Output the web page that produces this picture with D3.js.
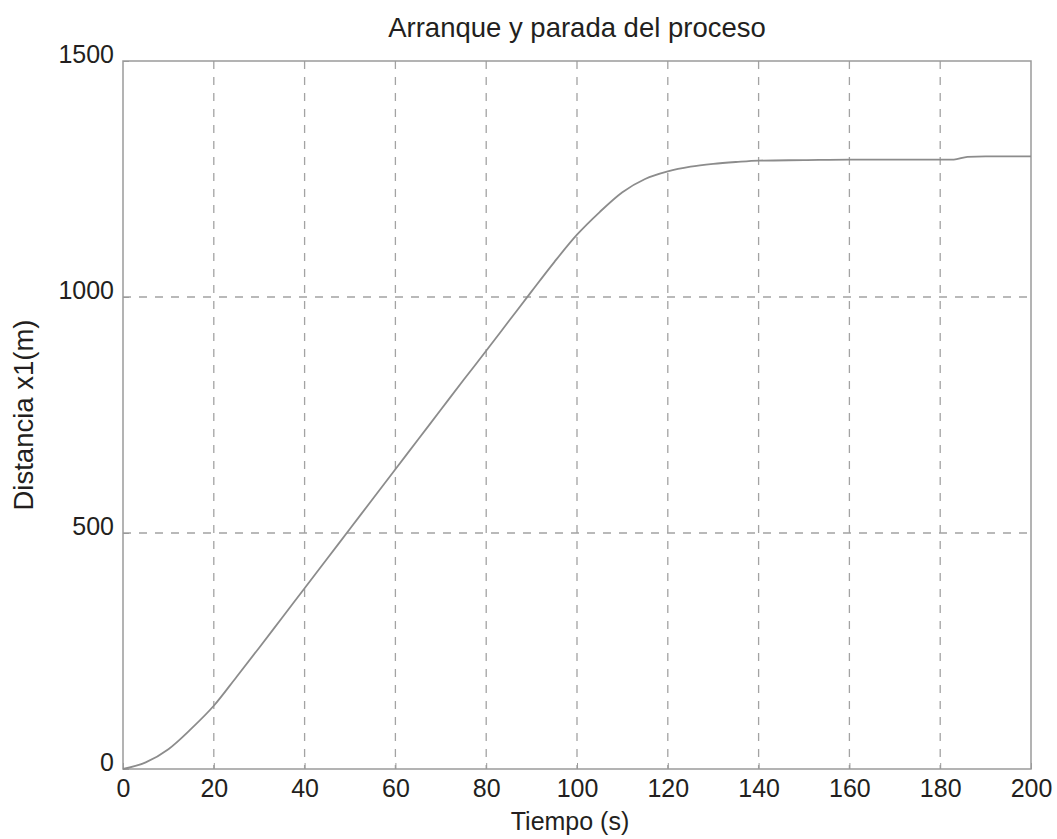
<!DOCTYPE html>
<html>
<head>
<meta charset="utf-8">
<script src="https://cdn.jsdelivr.net/npm/d3@7"></script>
<style>
  body { margin: 0; background: #fff; }
  text { font-family: "Liberation Sans", Arial, sans-serif; fill: #231f20; }
</style>
</head>
<body>
<script>
// time (s) and distance x1 (m)
var tiempo = [0, 5, 10, 15, 20, 25, 30, 35, 40, 45, 50, 55, 60, 65, 70, 75, 80, 85, 90, 95,
              100, 105, 110, 115, 120, 125, 130, 135, 140, 150, 160, 170, 180, 183, 186, 190, 200];
var distancia = [0, 14, 42, 85, 134, 195, 257, 320, 383, 446, 509, 572, 635, 698, 761, 824, 886, 949, 1012, 1074,
                 1132, 1180, 1222, 1250, 1266, 1276, 1282, 1286, 1289, 1290, 1291, 1291, 1291, 1291, 1297, 1298, 1298];
var xTicks = [0, 20, 40, 60, 80, 100, 120, 140, 160, 180, 200];
var yTicks = [0, 500, 1000, 1500];

var svg = d3.select("body")
            .append("svg")
            .attr("width", 1057)
            .attr("height", 839);

var margin = {top: 61, right: 26, bottom: 70, left: 123};
var width = 1057 - margin.left - margin.right;
var height = 839 - margin.top - margin.bottom;

var g = svg.append("g")
           .attr("transform", "translate(" + margin.left + "," + margin.top + ")");

var xScale = d3.scaleLinear().domain([0, 200]).range([0, width]);
var yScale = d3.scaleLinear().domain([0, 1500]).range([height, 0]);

// grid
g.selectAll(".vgrid")
 .data(xTicks.slice(1, -1))
 .enter()
 .append("line")
 .attr("x1", function(d) { return xScale(d); })
 .attr("x2", function(d) { return xScale(d); })
 .attr("y1", 0)
 .attr("y2", height)
 .attr("stroke", "#a3a3a3")
 .attr("stroke-width", 1.3)
 .attr("stroke-dasharray", "8,8");

g.selectAll(".hgrid")
 .data(yTicks.slice(1, -1))
 .enter()
 .append("line")
 .attr("x1", 0)
 .attr("x2", width)
 .attr("y1", function(d) { return yScale(d); })
 .attr("y2", function(d) { return yScale(d); })
 .attr("stroke", "#a3a3a3")
 .attr("stroke-width", 1.3)
 .attr("stroke-dasharray", "8,8");

// box
g.append("rect")
 .attr("width", width)
 .attr("height", height)
 .attr("fill", "none")
 .attr("stroke", "#9a9a9a")
 .attr("stroke-width", 1.5);

// axes (ticks inward, labels only)
var xAxis = g.append("g")
 .attr("transform", "translate(0," + height + ")")
 .call(d3.axisBottom(xScale).tickValues(xTicks).tickFormat(d3.format("d")).tickSize(-6).tickPadding(13));
var yAxis = g.append("g")
 .call(d3.axisLeft(yScale).tickValues(yTicks).tickFormat(d3.format("d")).tickSize(-6).tickPadding(9));

[xAxis, yAxis].forEach(function(a) {
  a.attr("font-size", null);
  a.select(".domain").remove();
  a.selectAll(".tick line").attr("stroke", "#9a9a9a");
  a.selectAll("text")
   .style("font-size", "25px")
   .attr("fill", "#231f20");
});
yAxis.selectAll("text").attr("dy", "0.05em");
xAxis.selectAll("text").attr("dy", "0.6em");

// curve
var line = d3.line()
  .x(function(d, i) { return xScale(tiempo[i]); })
  .y(function(d) { return yScale(d); })
  .curve(d3.curveMonotoneX);

g.append("path")
 .datum(distancia)
 .attr("d", line)
 .attr("fill", "none")
 .attr("stroke", "#8c8c8c")
 .attr("stroke-width", 1.8);

// labels
svg.append("text")
   .attr("x", 577)
   .attr("y", 37)
   .attr("text-anchor", "middle")
   .style("font-size", "27.5px")
   .text("Arranque y parada del proceso");

svg.append("text")
   .attr("x", 570)
   .attr("y", 830)
   .attr("text-anchor", "middle")
   .style("font-size", "25px")
   .text("Tiempo (s)");

svg.append("text")
   .attr("transform", "translate(33,415) rotate(-90)")
   .attr("text-anchor", "middle")
   .style("font-size", "27.5px")
   .text("Distancia x1(m)");
</script>
</body>
</html>
